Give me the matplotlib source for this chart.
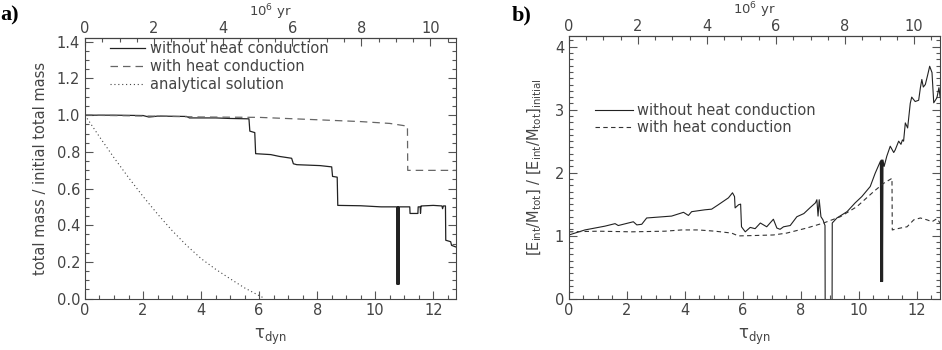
import matplotlib
matplotlib.use("Agg")
import matplotlib.pyplot as plt
from matplotlib.ticker import MultipleLocator, FixedLocator

plt.rcParams['font.family'] = ['DejaVu Sans']
plt.rcParams['mathtext.fontset'] = 'dejavusans'
plt.rcParams['mathtext.default'] = 'regular'

# ---------------- Panel a data ----------------
a_nohc_x = [0, 1.0, 2.0, 2.2, 2.35, 2.5, 3.5, 3.6, 4.5, 5.0, 5.65, 5.68, 5.85, 5.88,
            6.4, 6.7, 7.12, 7.18, 7.3, 8.1, 8.5, 8.53, 8.69, 8.71, 9.5, 10.2, 10.74,
            10.755, 10.77, 10.785, 10.80, 10.815, 10.83, 11.19, 11.2, 11.47,
            11.48, 11.55, 11.56, 11.58, 11.6, 12.0, 12.3, 12.32, 12.35, 12.42, 12.43,
            12.6, 12.63, 12.8]
a_nohc_y = [1.0, 1.0, 0.998, 0.99, 0.992, 0.995, 0.993, 0.985, 0.985, 0.982, 0.98, 0.913,
            0.905, 0.79, 0.785, 0.775, 0.765, 0.735, 0.73, 0.725, 0.718, 0.666, 0.662,
            0.508, 0.506, 0.5, 0.5, 0.077, 0.5, 0.077, 0.5, 0.077, 0.5,
            0.5, 0.464, 0.464, 0.5, 0.5, 0.465, 0.505, 0.505, 0.508, 0.505, 0.49, 0.505,
            0.505, 0.318, 0.31, 0.29, 0.28]

a_hc_x = [0, 2.3, 4.0, 6.0, 8.0, 9.5, 10.5, 11.11, 11.12, 12.8]
a_hc_y = [1.0, 0.995, 0.99, 0.988, 0.975, 0.965, 0.955, 0.94, 0.699, 0.699]

a_ana_x = [0, 0.5, 1.0, 1.5, 2.0, 2.5, 3.0, 3.5, 4.0, 4.5, 5.0, 5.5, 6.0, 6.2]
a_ana_y = [1.0, 0.882, 0.768, 0.660, 0.557, 0.461, 0.371, 0.290, 0.218, 0.160,
           0.108, 0.058, 0.016, 0.0]

# ---------------- Panel b data ----------------
b_nohc_x = [0.0, 0.55, 1.24, 1.59, 1.7, 2.22, 2.34, 2.51, 2.68, 3.54, 3.95, 4.12, 4.23,
            4.69, 4.92, 5.15, 5.5, 5.64, 5.71, 5.73, 5.85, 5.92, 5.95, 6.08, 6.25, 6.42,
            6.6, 6.82, 7.05, 7.17, 7.28, 7.4, 7.63, 7.86, 8.1, 8.33, 8.5, 8.55, 8.59,
            8.63, 8.69, 8.76, 8.83, 8.84, 9.07, 9.08, 9.24, 9.59, 9.87, 10.1, 10.39,
            10.56, 10.74, 10.755, 10.77, 10.785, 10.80, 10.815, 10.83, 10.87, 10.96, 11.08,
            11.2, 11.25, 11.37, 11.45, 11.5, 11.54, 11.6, 11.68, 11.77, 11.82, 11.94,
            12.06, 12.12, 12.17, 12.22, 12.29, 12.37, 12.44, 12.52, 12.58, 12.69, 12.76,
            12.8]
b_nohc_y = [1.01, 1.09, 1.15, 1.19, 1.16, 1.22, 1.17, 1.18, 1.28, 1.31, 1.37, 1.32, 1.38,
            1.41, 1.42, 1.49, 1.6, 1.68, 1.62, 1.44, 1.49, 1.5, 1.14, 1.06, 1.13, 1.11,
            1.2, 1.14, 1.26, 1.12, 1.1, 1.14, 1.16, 1.3, 1.35, 1.45, 1.52, 1.57, 1.31,
            1.57, 1.3, 1.25, 1.16, -1.0, -1.0, 1.2, 1.28, 1.38, 1.52, 1.62, 1.78,
            1.99, 2.18, 0.27, 2.2, 0.27, 2.2, 0.27, 2.2, 2.1, 2.26, 2.42,
            2.32, 2.36, 2.5, 2.45, 2.52, 2.5, 2.79, 2.71, 3.1, 3.2, 3.13,
            3.15, 3.35, 3.48, 3.36, 3.4, 3.55, 3.69, 3.59, 3.11, 3.19, 3.35,
            3.2]

b_hc_x = [0.0, 1.01, 2.16, 3.31, 3.89, 4.46, 5.04, 5.61, 5.84, 6.3, 7.05, 7.51, 8.2,
          8.78, 9.36, 9.93, 10.51, 10.85, 11.14, 11.15, 11.43, 11.66, 11.89, 12.12,
          12.35, 12.52, 12.69, 12.8]
b_hc_y = [1.06, 1.07, 1.06, 1.07, 1.09, 1.09, 1.07, 1.04, 0.995, 1.0, 1.01, 1.04, 1.12,
          1.2, 1.3, 1.46, 1.7, 1.83, 1.91, 1.09, 1.12, 1.14, 1.25, 1.28,
          1.25, 1.22, 1.27, 1.2]

legend_a = ['without heat conduction', 'with heat conduction', 'analytical solution']
legend_b = ['without heat conduction', 'with heat conduction']

top_major = [0, 2, 4, 6, 8, 10]
top_minor = [0.5, 1, 1.5, 2.5, 3, 3.5, 4.5, 5, 5.5, 6.5, 7, 7.5, 8.5, 9, 9.5, 10.5]

TAU_PER_MYR = 1.19
TXT = '#444444'
LINE = '#222222'

fig = plt.figure(figsize=(9.42, 3.5), dpi=100)
axa = fig.add_axes([0.0902, 0.147, 0.3944, 0.744])
axb = fig.add_axes([0.604, 0.147, 0.394, 0.750])


def style(ax, ylim, ymaj, ymin):
    ax.set_xlim(0, 12.8)
    ax.set_ylim(*ylim)
    ax.xaxis.set_major_locator(MultipleLocator(2))
    ax.xaxis.set_minor_locator(MultipleLocator(0.5))
    ax.yaxis.set_major_locator(MultipleLocator(ymaj))
    ax.yaxis.set_minor_locator(MultipleLocator(ymin))
    ax.tick_params(which='both', direction='in', top=False, right=True,
                   colors='#555555', labelcolor=TXT, labelsize=10.5, width=0.8)
    ax.tick_params(which='major', length=6)
    ax.tick_params(which='minor', length=3)
    for s in ax.spines.values():
        s.set_color('#444444')
        s.set_linewidth(0.8)
    sec = ax.secondary_xaxis('top', functions=(lambda t: t / TAU_PER_MYR,
                                               lambda m: m * TAU_PER_MYR))
    sec.xaxis.set_major_locator(FixedLocator(top_major))
    sec.xaxis.set_minor_locator(FixedLocator(top_minor))
    sec.tick_params(which='both', direction='in', colors='#555555', labelcolor=TXT,
                    labelsize=10.5, width=0.8, pad=1.5)
    sec.tick_params(which='major', length=6)
    sec.tick_params(which='minor', length=3)
    sec.set_xlabel('10$^6$ yr', color=TXT, fontsize=9.5, labelpad=3.2)
    ax.set_xlabel(r'$\tau_{\rm dyn}$', color=TXT, fontsize=12, labelpad=6)


# Panel a
axa.plot(a_nohc_x, a_nohc_y, color=LINE, lw=0.9, label=legend_a[0])
axa.plot(a_hc_x, a_hc_y, color='#666666', lw=0.9, dashes=(6, 4), label=legend_a[1])
axa.plot(a_ana_x, a_ana_y, color='#444444', lw=0.8, linestyle=(0, (1, 2.5)), label=legend_a[2])
style(axa, (0, 1.42), 0.2, 0.05)
axa.yaxis.set_major_formatter(matplotlib.ticker.FormatStrFormatter('%.1f'))
axa.set_ylabel('total mass / initial total mass', color=TXT, fontsize=10.5, labelpad=6)
axa.legend(loc='upper left', bbox_to_anchor=(0.032, 1.04), frameon=False, fontsize=10.5,
           handlelength=2.4, handletextpad=0.35, labelspacing=0.2, labelcolor=TXT)
fig.text(0.0, 0.985, 'a)', fontsize=16, fontweight='bold', family='Liberation Serif',
         va='top', ha='left')

# Panel b
axb.plot(b_nohc_x, b_nohc_y, color=LINE, lw=0.8, label=legend_b[0])
axb.plot(b_hc_x, b_hc_y, color='#333333', lw=0.8, dashes=(4, 3), label=legend_b[1])
style(axb, (0, 4.17), 1, 0.1)
axb.set_ylabel(r'[E$_{\rm int}$/M$_{\rm tot}$] / [E$_{\rm int}$/M$_{\rm tot}$]$_{\rm initial}$',
               color=TXT, fontsize=10.5, labelpad=8)
axb.legend(loc='upper left', bbox_to_anchor=(0.035, 0.795), frameon=False, fontsize=10.5,
           handlelength=2.6, handletextpad=0.3, labelspacing=0.15, labelcolor=TXT)
fig.text(0.543, 0.985, 'b)', fontsize=16, fontweight='bold', family='Liberation Serif',
         va='top', ha='left')

fig.savefig('out.png', dpi=100)
